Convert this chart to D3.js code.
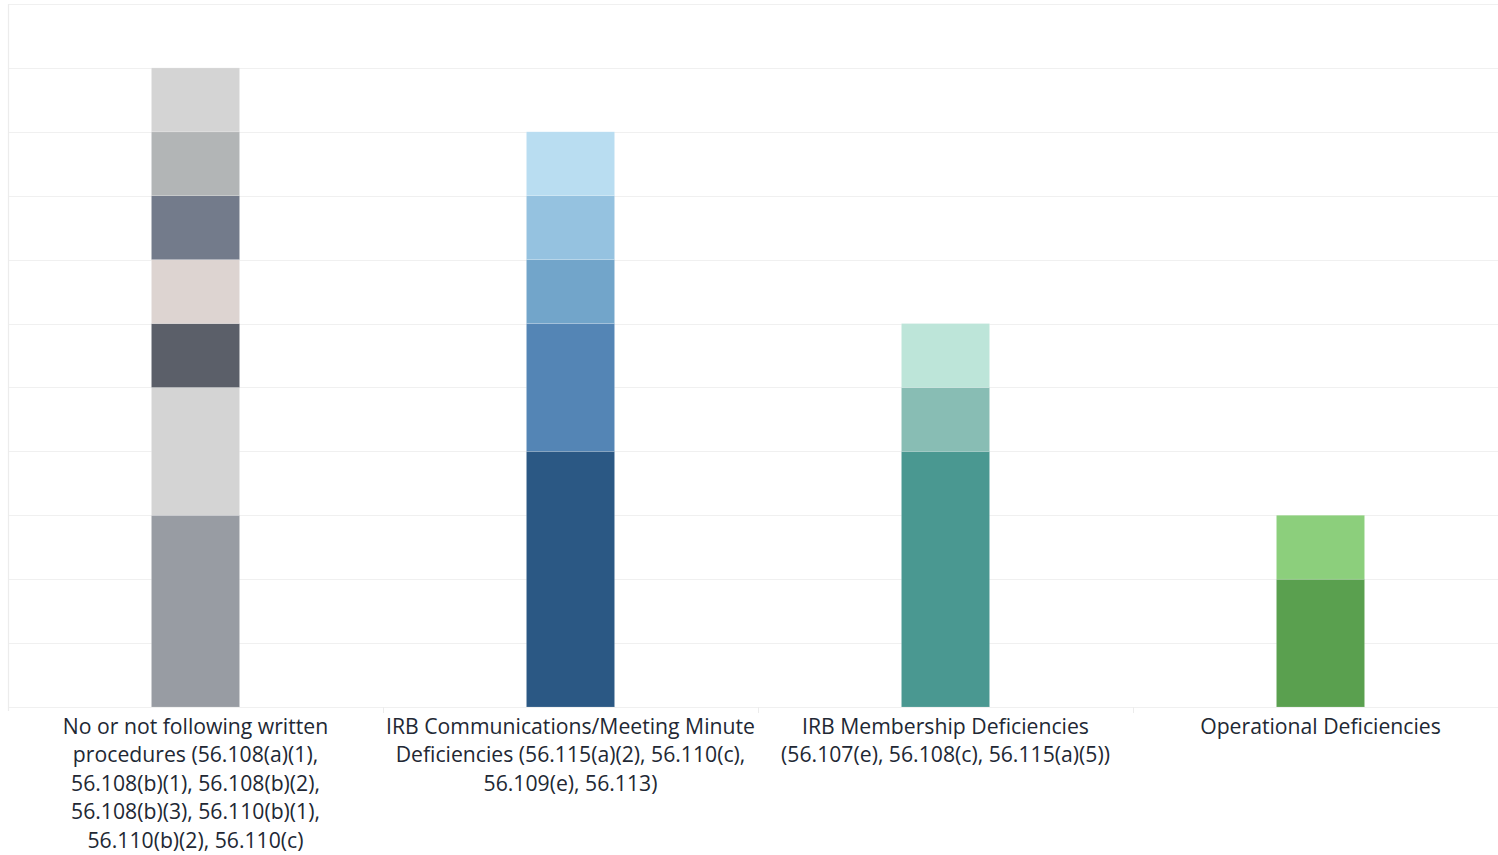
<!DOCTYPE html>
<html>
<head>
<meta charset="utf-8">
<script src="https://cdn.jsdelivr.net/npm/d3@7"></script>
<style>
  html, body { margin: 0; padding: 0; background: #fff; }
  svg { display: block; }
</style>
</head>
<body>
<svg id="chart" width="1498" height="855"></svg>
<script>
// ---- data ----
const categories = [
  "No or not following written procedures (56.108(a)(1), 56.108(b)(1), 56.108(b)(2), 56.108(b)(3), 56.110(b)(1), 56.110(b)(2), 56.110(c)",
  "IRB Communications/Meeting Minute Deficiencies (56.115(a)(2), 56.110(c), 56.109(e), 56.113)",
  "IRB Membership Deficiencies (56.107(e), 56.108(c), 56.115(a)(5))",
  "Operational Deficiencies"
];
const labelLines = [
  ["No or not following written", "procedures (56.108(a)(1),", "56.108(b)(1), 56.108(b)(2),", "56.108(b)(3), 56.110(b)(1),", "56.110(b)(2), 56.110(c)"],
  ["IRB Communications/Meeting Minute", "Deficiencies (56.115(a)(2), 56.110(c),", "56.109(e), 56.113)"],
  ["IRB Membership Deficiencies", "(56.107(e), 56.108(c), 56.115(a)(5))"],
  ["Operational Deficiencies"]
];
// segment counts, bottom to top
const proceduresValues      = [3, 2, 1, 1, 1, 1, 1];
const communicationsValues  = [4, 2, 1, 1, 1];
const membershipValues      = [4, 1, 1];
const operationalValues     = [2, 1];
const seriesValues = [proceduresValues, communicationsValues, membershipValues, operationalValues];

// segment colours, bottom to top
const proceduresColors     = ["#989ca3", "#d4d4d4", "#5b5f69", "#ddd4d1", "#737b8b", "#b2b5b6", "#d4d4d4"];
const communicationsColors = ["#2b5884", "#5485b5", "#72a5ca", "#95c2e0", "#b9ddf1"];
const membershipColors     = ["#4a9891", "#88bdb4", "#bde5d9"];
const operationalColors    = ["#5aa04f", "#8ccf7c"];
const seriesColors = [proceduresColors, communicationsColors, membershipColors, operationalColors];

const yTicks = d3.range(0, 12);

// ---- layout ----
const svg = d3.select("#chart");
const plotLeft = 8, plotRight = 1508, plotTop = 4, plotBottom = 707;

const x = d3.scaleBand().domain(categories).range([plotLeft, plotRight]).padding(0);
const y = d3.scaleLinear().domain([0, 11]).range([plotBottom, plotTop]);
const barW = x.bandwidth() * 0.235;

// gridlines
svg.append("g")
  .selectAll("line")
  .data(yTicks)
  .join("line")
  .attr("x1", plotLeft).attr("x2", 1498)
  .attr("y1", d => Math.round(y(d)) + 0.5)
  .attr("y2", d => Math.round(y(d)) + 0.5)
  .attr("stroke", "#f0f0f0")
  .attr("stroke-width", 1.2);

// left axis line
svg.append("line")
  .attr("x1", plotLeft + 0.5).attr("x2", plotLeft + 0.5)
  .attr("y1", plotTop).attr("y2", plotBottom + 4)
  .attr("stroke", "#ececec").attr("stroke-width", 1.2);

// separators between category headers
svg.append("g")
  .selectAll("line")
  .data(categories.slice(1))
  .join("line")
  .attr("x1", d => Math.round(x(d)) + 0.5)
  .attr("x2", d => Math.round(x(d)) + 0.5)
  .attr("y1", plotBottom).attr("y2", plotBottom + 6)
  .attr("stroke", "#ececec");

// stacked bars
categories.forEach((cat, i) => {
  const vals = seriesValues[i];
  const cols = seriesColors[i];
  const stacked = [];
  let acc = 0;
  vals.forEach((v, j) => { stacked.push({ y0: acc, y1: acc + v, color: cols[j] }); acc += v; });
  const cx = x(cat) + x.bandwidth() / 2;
  svg.append("g")
    .selectAll("rect")
    .data(stacked)
    .join("rect")
    .attr("x", cx - barW / 2)
    .attr("width", barW)
    .attr("y", d => y(d.y1))
    .attr("height", d => y(d.y0) - y(d.y1))
    .attr("fill", d => d.color)
    .attr("stroke", "rgba(255,255,255,0.25)")
    .attr("stroke-width", 0.6);
});

// category labels
const labelG = svg.append("g")
  .attr("font-family", "'Open Sans', 'Noto Sans', sans-serif")
  .attr("font-size", 21.2)
  .attr("fill", "#222834")
  .attr("text-anchor", "middle")
  .style("font-variant-ligatures", "none");

categories.forEach((cat, i) => {
  const cx = x(cat) + x.bandwidth() / 2;
  const t = labelG.append("text").attr("x", cx).attr("y", 734);
  labelLines[i].forEach((line, k) => {
    t.append("tspan").attr("x", cx).attr("dy", k === 0 ? 0 : 28.4).text(line);
  });
});
</script>
</body>
</html>
